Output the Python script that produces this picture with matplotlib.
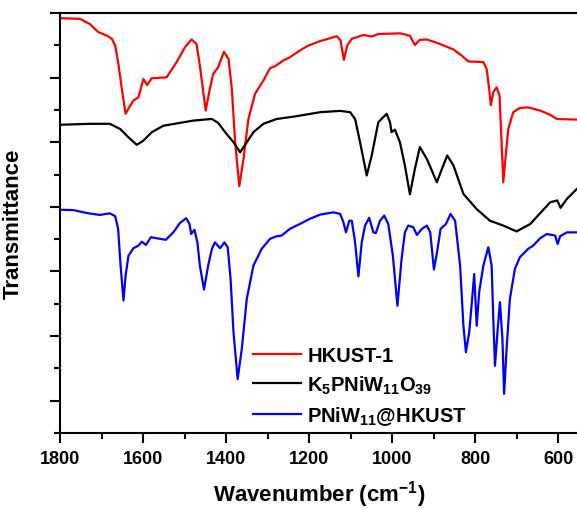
import matplotlib
matplotlib.use("Agg")
import matplotlib.pyplot as plt
from matplotlib.ticker import MultipleLocator, FixedLocator

plt.rcParams['font.family'] = ['Liberation Sans', 'DejaVu Sans']
plt.rcParams['font.weight'] = 'bold'
plt.rcParams['mathtext.fontset'] = 'custom'
plt.rcParams['mathtext.rm'] = 'Liberation Sans:bold'
plt.rcParams['mathtext.it'] = 'Liberation Sans:bold'
plt.rcParams['mathtext.bf'] = 'Liberation Sans:bold'
plt.rcParams['mathtext.default'] = 'rm'

# ---- data (wavenumber cm-1, transmittance in offset a.u.) ----
hkust_wn = [1800, 1752, 1728, 1708, 1687, 1675, 1667, 1660, 1651, 1642, 1631, 1623, 1611, 1599,
            1590, 1579, 1543, 1519, 1499, 1483, 1471, 1463, 1449, 1439, 1431, 1419, 1405, 1394,
            1386, 1378, 1368, 1358, 1346, 1330, 1310, 1294, 1282, 1262, 1246, 1222, 1202, 1173,
            1149, 1133, 1124, 1116, 1108, 1097, 1069, 1049, 1033, 981, 957, 945, 933, 916, 884,
            852, 832, 816, 780, 772, 766, 762, 756, 748, 741, 736, 732, 726, 720, 708, 692, 672,
            643, 619, 603, 555]
hkust_t = [128.4, 128.2, 126.6, 124.1, 123.0, 122.0, 119.9, 114.8, 106.5, 98.8, 101.3, 102.9, 103.9, 109.6,
           107.7, 109.8, 110.1, 114.8, 119.4, 121.8, 120.4, 113.7, 99.8, 106.5, 111.1, 113.2, 118.0, 115.8,
           106.5, 90.0, 76.4, 84.8, 97.2, 105.0, 109.1, 112.9, 113.5, 115.3, 116.3, 118.4, 119.9, 121.3,
           122.2, 122.8, 121.5, 115.5, 119.9, 122.0, 123.2, 122.7, 123.5, 123.7, 123.0, 120.1, 121.7, 121.8, 120.4,
           118.7, 116.8, 115.0, 114.8, 112.7, 106.5, 101.5, 105.5, 107.0, 104.4, 90.0, 77.6, 85.9, 94.1, 99.3, 100.6, 100.8,
           99.8, 98.5, 97.2, 97.0]

pom_wn = [1800, 1728, 1680, 1655, 1635, 1615, 1599, 1579, 1551, 1479, 1434, 1419, 1402, 1382,
          1366, 1350, 1334, 1310, 1278, 1238, 1173, 1125, 1101, 1089, 1077, 1061, 1049, 1033,
          1013, 1005, 1001, 993, 981, 969, 957, 945, 933, 916, 892, 880, 867, 852, 828, 796,
          764, 732, 700, 667, 619, 602, 594, 579, 555]
pom_t = [95.4, 95.7, 95.7, 94.1, 91.5, 89.2, 90.5, 93.1, 95.1, 96.7, 97.2, 96.0, 93.1, 90.0,
         86.9, 90.0, 93.1, 95.7, 97.2, 97.9, 99.3, 99.7, 99.3, 97.2, 90.0, 79.7, 85.9, 96.2,
         98.8, 96.2, 93.1, 93.9, 90.0, 82.8, 73.9, 81.7, 88.5, 84.8, 77.6, 81.7, 85.9, 82.8, 74.0, 69.3,
         65.7, 64.2, 62.4, 64.7, 71.4, 72.0, 69.7, 72.4, 75.5]

comp_wn = [1800, 1768, 1736, 1704, 1680, 1667, 1660, 1654, 1647, 1642, 1635, 1623, 1611, 1603,
           1593, 1581, 1559, 1545, 1527, 1511, 1496, 1488, 1484, 1476, 1469, 1463, 1453, 1443,
           1434, 1427, 1414, 1404, 1396, 1389, 1382, 1372, 1362, 1350, 1334, 1314, 1294, 1278,
           1266, 1246, 1222, 1198, 1173, 1141, 1125, 1117, 1111, 1103, 1097, 1089, 1081, 1073,
           1065, 1055, 1045, 1039, 1029, 1019, 1009, 998, 987, 977, 969, 961, 949, 940, 928,
           916, 908, 899, 891, 883, 870, 859, 848, 836, 828, 822, 814, 807, 802, 796, 790,
           780, 768, 760, 756, 752, 746, 740, 734, 730, 724, 716, 704, 692, 672, 666, 660,
           643, 627, 607, 601, 595, 579, 555]
comp_t = [69.1, 69.0, 68.1, 67.5, 68.0, 67.1, 63.2, 51.8, 41.0, 48.7, 54.9, 57.2, 58.0, 59.2,
          58.2, 60.6, 60.1, 59.8, 62.1, 65.0, 66.5, 64.7, 61.6, 62.9, 59.0, 51.8, 44.4, 51.8,
          57.0, 59.0, 57.2, 59.0, 57.5, 47.7, 31.2, 16.7, 26.0, 41.5, 51.8, 57.0, 60.1, 60.9,
          61.1, 63.2, 64.7, 66.3, 67.6, 68.3, 67.8, 65.2, 62.1, 65.7, 65.7, 59.0, 48.5, 59.0,
          64.2, 66.6, 62.1, 61.9, 65.7, 67.3, 64.7, 54.9, 39.4, 53.9, 62.1, 64.2, 63.7, 61.3, 63.2,
          64.2, 62.1, 50.6, 56.4, 63.2, 64.7, 67.8, 65.7, 51.8, 33.2, 25.0, 31.2, 41.5, 49.2, 33.2, 43.6,
          51.8, 57.5, 51.8, 35.3, 20.8, 31.2, 40.5, 29.1, 12.1, 26.0, 41.5, 50.8, 54.4, 57.0, 57.5, 58.0,
          60.3, 61.6, 61.1, 58.5, 60.9, 62.1, 62.1]

labels = ["HKUST-1", r"K$_5$PNiW$_{11}$O$_{39}$", r"PNiW$_{11}$@HKUST"]
colors = ["#FF0000", "#000000", "#0000FF"]
x_ticks = [1800, 1600, 1400, 1200, 1000, 800, 600]

fig = plt.figure(figsize=(5.77, 5.10), dpi=100)
ax = fig.add_axes([60/577, 76/510, 518.8/577, 420/510])

for wn, t, lab, c in zip([hkust_wn, pom_wn, comp_wn], [hkust_t, pom_t, comp_t], labels, colors):
    ax.plot(wn, t, color=c, lw=1.6, label=lab, solid_joinstyle='round', antialiased=True)

ax.set_xlim(1800, 550)
ax.set_ylim(0, 130)
ax.xaxis.set_major_locator(FixedLocator(x_ticks))
ax.xaxis.set_minor_locator(MultipleLocator(100))
ax.yaxis.set_major_locator(FixedLocator([10, 30, 50, 70, 90, 110, 130]))
ax.yaxis.set_minor_locator(FixedLocator([0, 20, 40, 60, 80, 100, 120]))
ax.set_yticklabels([])
ax.tick_params(which='major', direction='out', length=7, width=1.5, labelsize=13, pad=5)
ax.tick_params(which='minor', direction='out', length=4, width=1.5)
ax.tick_params(top=False, right=False, which='both')
for lab in ax.get_xticklabels():
    lab.set_fontweight('bold')
for s in ['left', 'bottom', 'top']:
    ax.spines[s].set_linewidth(1.5)
ax.spines['right'].set_visible(False)

ax.set_xlabel(r"Wavenumber (cm$^{-1}$)", fontsize=16, fontweight='bold', labelpad=8)
ax.set_ylabel("Transmittance", fontsize=16, fontweight='bold', labelpad=14)

ax.legend(loc='upper left', bbox_to_anchor=((253-60)/518.8, (434-347)/420), frameon=False,
          borderpad=0, borderaxespad=0, handlelength=2.4, handletextpad=0.3,
          labelspacing=0.42, prop={'size': 14.5, 'weight': 'bold'})

fig.savefig("out.png", dpi=100)
